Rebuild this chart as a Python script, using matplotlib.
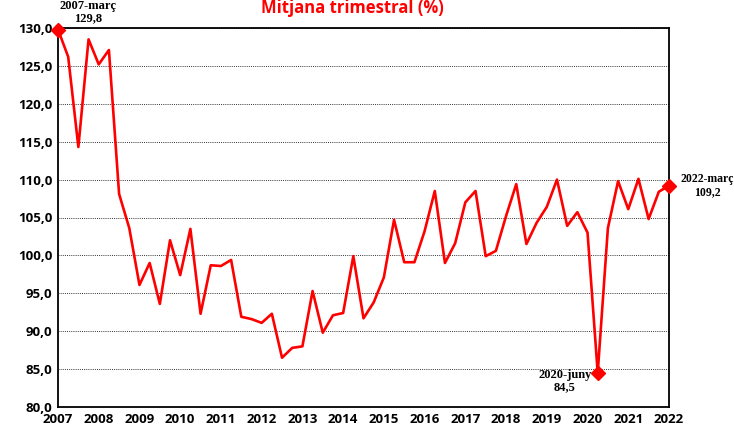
import matplotlib
matplotlib.use("Agg")
import matplotlib.pyplot as plt
import numpy as np

# Mitjana trimestral (%), 2007 T1 .. 2022 T1
start_year = 2007
values = [
    129.8, 126.2, 114.3, 128.5,
    125.2, 127.1, 108.1, 103.6,
    96.1, 99.0, 93.6, 102.0,
    97.4, 103.5, 92.3, 98.7,
    98.6, 99.4, 91.9, 91.6,
    91.1, 92.3, 86.5, 87.8,
    88.0, 95.3, 89.8, 92.1,
    92.4, 99.9, 91.7, 93.8,
    97.1, 104.7, 99.1, 99.1,
    103.2, 108.5, 99.0, 101.6,
    107.0, 108.5, 99.9, 100.6,
    105.2, 109.4, 101.5, 104.3,
    106.4, 110.0, 103.9, 105.7,
    103.0, 84.5, 103.6, 109.8,
    106.1, 110.1, 104.8, 108.4,
    109.2,
]
year_ticks = list(range(2007, 2023))
y_ticks = [80, 85, 90, 95, 100, 105, 110, 115, 120, 125, 130]

# punts destacats: (índex, etiqueta)
highlights = [(0, "2007-març"), (53, "2020-juny"), (60, "2022-març")]

x = start_year + np.arange(len(values)) * 0.25

fig = plt.figure(figsize=(7.34, 4.3), dpi=100)
ax = fig.add_axes([58 / 734, 1 - 407 / 430, (669 - 58) / 734, (407 - 28) / 430])

ax.plot(x, values, color="#ff0000", lw=1.9, clip_on=False, zorder=3)
for i, _ in highlights:
    ax.plot(x[i], values[i], marker="D", ms=7, color="#ff0000", clip_on=False, zorder=4)

ax.set_xlim(2007, 2022)
ax.set_ylim(80, 130)
ax.set_xticks(year_ticks)
ax.set_yticks(y_ticks)
ax.set_yticklabels([f"{v:.1f}".replace(".", ",") for v in y_ticks])
for lbl in ax.get_xticklabels() + ax.get_yticklabels():
    lbl.set_fontweight("bold")
    lbl.set_fontfamily("Open Sans")
    lbl.set_fontsize(9.5)
ax.tick_params(length=0, pad=4)
ax.grid(axis="y", color="#333333", ls=(0, (1, 1.2)), lw=0.7)
ax.set_axisbelow(True)
for s in ax.spines.values():
    s.set_linewidth(1.3)

serif = dict(family="Liberation Serif", fontweight="bold", fontsize=9, ha="center")
fmt = lambda v: f"{v:.1f}".replace(".", ",")
# 2007-març
i, lab = highlights[0]
ax.annotate(f"{lab}\n{fmt(values[i])}", (x[i], values[i]), xytext=(30, 5),
            textcoords="offset pixels", va="bottom", linespacing=1.05, annotation_clip=False, **serif)
# 2020-juny
i, lab = highlights[1]
ax.annotate(f"{lab}\n{fmt(values[i])}", (x[i], values[i]), xytext=(-33, 4),
            textcoords="offset pixels", va="top", linespacing=1.05, annotation_clip=False, **serif)
# 2022-març
i, lab = highlights[2]
serif_r = dict(serif, fontsize=8.5)
ax.annotate(f"{lab}\n{fmt(values[i])}", (x[i], values[i]), xytext=(38, 0),
            textcoords="offset pixels", va="center", linespacing=1.05, annotation_clip=False, **serif_r)

fig.text(352 / 734, 1 - 8 / 430, "Mitjana trimestral (%)", color="#ff0000",
         fontsize=12, fontweight="bold", family="Open Sans", ha="center", va="center")

fig.savefig("out.png", dpi=100)
